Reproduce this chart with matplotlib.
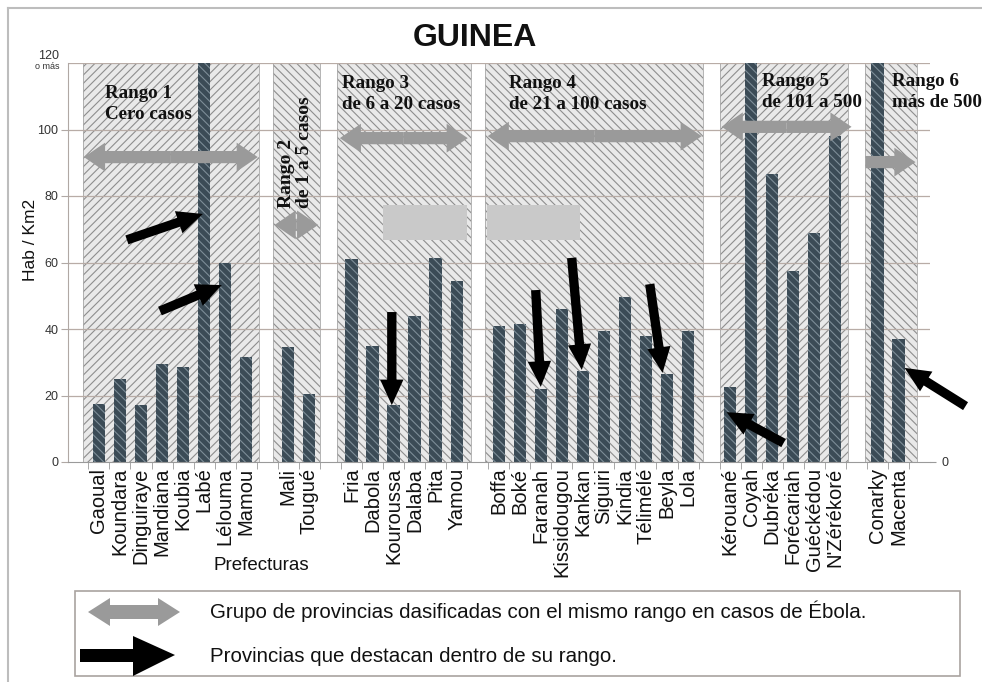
import matplotlib
matplotlib.use("Agg")
import matplotlib.pyplot as plt
from matplotlib.patches import FancyArrowPatch, Polygon, Rectangle
from matplotlib.lines import Line2D

plt.rcParams['font.family'] = ['Liberation Sans', 'DejaVu Sans']
plt.rcParams['hatch.linewidth'] = 0.8

# ---------------- data ----------------
groups = ["Rango 1", "Rango 2", "Rango 3", "Rango 4", "Rango 5", "Rango 6"]
group_sizes = [8, 2, 6, 10, 6, 2]
categories = ["Gaoual", "Koundara", "Dinguiraye", "Mandiana", "Koubia", "Labé", "Lélouma", "Mamou",
              "Mali", "Tougué",
              "Fria", "Dabola", "Kouroussa", "Dalaba", "Pita", "Yamou",
              "Boffa", "Boké", "Faranah", "Kissidougou", "Kankan", "Siguiri", "Kindia", "Télimélé", "Beyla", "Lola",
              "Kérouané", "Coyah", "Dubréka", "Forécariah", "Guéckédou", "N'Zérékoré",
              "Conarky", "Macenta"]
# Hab/Km2 (bars at 120 are "120 o más", off the scale)
values = [17.5, 25, 17, 29.5, 28.5, 120, 60, 31.5,
          34.5, 20.5,
          61, 35, 17, 44, 61.5, 54.5,
          41, 41.5, 22, 46, 27.5, 39.5, 49.5, 38, 26.5, 39.5,
          22.5, 120, 86.5, 57.5, 69, 98,
          120, 37]
yticks = [0, 20, 40, 60, 80, 100]
range_labels = ["Rango 1\nCero casos", "Rango 2\nde 1 a 5 casos", "Rango 3\nde 6 a 20 casos",
                "Rango 4\nde 21 a 100 casos", "Rango 5\nde 101 a 500", "Rango 6\nmás de 500"]

# positions: one empty slot between groups
positions = []
group_first = []
group_last = []
slot = 0
for g, n in enumerate(group_sizes):
    group_first.append(slot)
    for k in range(n):
        positions.append(slot)
        slot += 1
    group_last.append(slot - 1)
    slot += 1

# ---------------- figure ----------------
fig = plt.figure(figsize=(9.82, 6.82), dpi=100)
L, R, T, B = 68, 930, 63, 462
ax = fig.add_axes([L / 982, 1 - B / 682, (R - L) / 982, (B - T) / 682])
ax.set_xlim(-1.47, 39.5)
ax.set_ylim(0, 120)

# shaded range regions
span_extra = [(-0.75, 0.6), (-0.73, 0.5), (-0.7, 0.7), (-0.63, 0.7), (-0.5, 0.6), (-0.6, 0.86)]
hatches = ['////', '\\\\\\\\', '\\\\\\\\', '\\\\\\\\', '////', '\\\\\\\\']
for g in range(len(groups)):
    x0 = group_first[g] + span_extra[g][0]
    x1 = group_last[g] + span_extra[g][1]
    ax.add_patch(Rectangle((x0, 0), x1 - x0, 120, facecolor='#e9e9e9', edgecolor='#8e8e8e',
                           hatch=hatches[g], lw=0, zorder=0))
    ax.add_patch(Rectangle((x0, 0), x1 - x0, 120, facecolor='none', edgecolor='#a8a8a8',
                           lw=0.6, zorder=0.5))

# grid
for yv in yticks[1:] + [120]:
    ax.axhline(yv, color='#b8aca6', lw=0.9, zorder=1)

# bars
ax.bar(positions, values, width=0.58, color='#3b4b56', edgecolor='#7d8d97', hatch='\\\\\\\\',
       lw=0, zorder=2)

# redaction blocks
ax.add_patch(Rectangle((13.5, 66.8), 4.0, 10.5, facecolor='#c9c9c9', edgecolor='none', zorder=3))
ax.add_patch(Rectangle((18.43, 66.8), 4.42, 10.5, facecolor='#c9c9c9', edgecolor='none', zorder=3))

# gray double arrows (range groups)
gray_arrows = [(-0.71, 7.55, 91.7), (8.35, 10.42, 71.3), (11.45, 17.53, 97.4),
               (18.48, 28.65, 98.0), (29.6, 35.77, 100.8)]
gstyle = "simple,head_length=0.95,head_width=1.3,tail_width=0.55"
for x0, x1, yv in gray_arrows:
    xm = (x0 + x1) / 2
    for xe in (x0, x1):
        ax.add_patch(FancyArrowPatch((xm, yv), (xe, yv), arrowstyle=gstyle, mutation_scale=16,
                                     color='#9a9a9a', lw=0, shrinkA=0, shrinkB=0, zorder=4))
ax.add_patch(FancyArrowPatch((36.44, 90.2), (38.81, 90.2), arrowstyle=gstyle, mutation_scale=16,
                             color='#9a9a9a', lw=0, shrinkA=0, shrinkB=0, zorder=4))

# black highlight arrows
black_arrows = [((1.33, 66.8), (4.94, 74.6)), ((2.9, 45.4), (5.84, 53.2)),
                ((13.92, 45.1), (13.92, 17.1)), ((20.76, 51.7), (21.0, 22.6)),
                ((22.47, 61.4), (22.95, 27.7)), ((26.18, 53.5), (26.79, 26.8)),
                ((32.54, 5.7), (29.83, 15.0)), ((41.19, 16.8), (38.29, 28.3))]
bstyle = "simple,head_length=1.15,head_width=1.05,tail_width=0.42"
for p0, p1 in black_arrows:
    a = FancyArrowPatch(p0, p1, arrowstyle=bstyle, mutation_scale=16, color='black', lw=0,
                        shrinkA=0, shrinkB=0, zorder=5, clip_on=False)
    ax.add_patch(a)

# range labels
serif = dict(family=['Liberation Serif', 'DejaVu Serif'], fontweight='bold', fontsize=13.7,
             color='#111111', zorder=6, linespacing=1.3)
label_pos = [(0.29, 113.5), None, (11.54, 116.5), (19.5, 116.5), (31.5, 117.0), (37.7, 117.0)]
for g, lab in enumerate(range_labels):
    if label_pos[g] is None:
        continue
    ax.text(label_pos[g][0], label_pos[g][1], lab, ha='left', va='top', clip_on=False, **serif)
ax.text(9.35, 76.5, range_labels[1], rotation=90, ha='center', va='bottom', multialignment='left',
        family=['Liberation Serif', 'DejaVu Serif'], fontweight='bold', fontsize=14,
        color='#111111', zorder=6, linespacing=1.1)

# axes styling
for s in ['top', 'right']:
    ax.spines[s].set_visible(False)
ax.spines['left'].set_color('#b0a8a4')
ax.spines['bottom'].set_color('#9a9a9a')
ax.set_yticks(yticks)
ax.set_yticklabels([str(v) for v in yticks], fontsize=9, color='#333333')
ax.tick_params(axis='y', length=5, color='#b0a8a4', pad=2)
ax.text(-1.88, 120.3, "120", ha='right', va='bottom', fontsize=9, color='#333333')
ax.text(-1.88, 120.3, "o más", ha='right', va='top', fontsize=6.5, color='#333333')

ax.set_xticks(positions)
ax.set_xticklabels(categories, rotation=90, fontsize=14.5, color='#111111')
ax.tick_params(axis='x', length=0, pad=4)
ax.set_xticks([p - 0.5 for p in range(0, 40)], minor=True)
ax.tick_params(axis='x', which='minor', length=5, color='#9a9a9a')

ax.set_ylabel("Hab / Km2", fontsize=12.5, color='#111111')
ax.yaxis.set_label_coords(-0.035, 0.556)

ax2 = ax.twinx()
ax2.set_ylim(0, 120)
ax2.set_yticks([0])
ax2.set_yticklabels(["0"], fontsize=9, color='#333333')
ax2.tick_params(axis='y', length=4, color='#9a9a9a', pad=4)
for s in ax2.spines.values():
    s.set_visible(False)

# ---------------- overlay (title, legend, border) ----------------
ov = fig.add_axes([0, 0, 1, 1], zorder=10)
ov.set_xlim(0, 982)
ov.set_ylim(682, 0)
ov.axis('off')
ov.patch.set_alpha(0)

ov.text(475, 38, "GUINEA", ha='center', va='center', fontsize=23, fontweight='bold', color='#111111')
ov.text(261, 566, "Prefecturas", ha='center', va='center', fontsize=13.5, color='#111111')

# outer border (top & left)
ov.add_line(Line2D([8, 982], [8, 8], color='#bdbdbd', lw=1.5))
ov.add_line(Line2D([8, 8], [8, 682], color='#bdbdbd', lw=1.5))

# legend box
ov.add_patch(Rectangle((75, 591), 885, 85, facecolor='white', edgecolor='#a9a3a0', lw=1.2))
ov.add_patch(Polygon([(88, 612), (110, 598), (110, 605), (158, 605), (158, 598), (180, 612),
                      (158, 626), (158, 619), (110, 619), (110, 626)], closed=True,
                     facecolor='#9a9a9a', edgecolor='none'))
ov.add_patch(Polygon([(80, 649), (133, 649), (133, 636), (175, 655), (133, 676), (133, 662),
                      (80, 662)], closed=True, facecolor='black', edgecolor='none'))
ov.text(210, 611, "Grupo de provincias dasificadas con el mismo rango en casos de Ébola.",
        ha='left', va='center', fontsize=14.8, color='#111111')
ov.text(210, 656, "Provincias que destacan dentro de su rango.",
        ha='left', va='center', fontsize=14.8, color='#111111')

fig.savefig("out.png", dpi=100, facecolor='white')
